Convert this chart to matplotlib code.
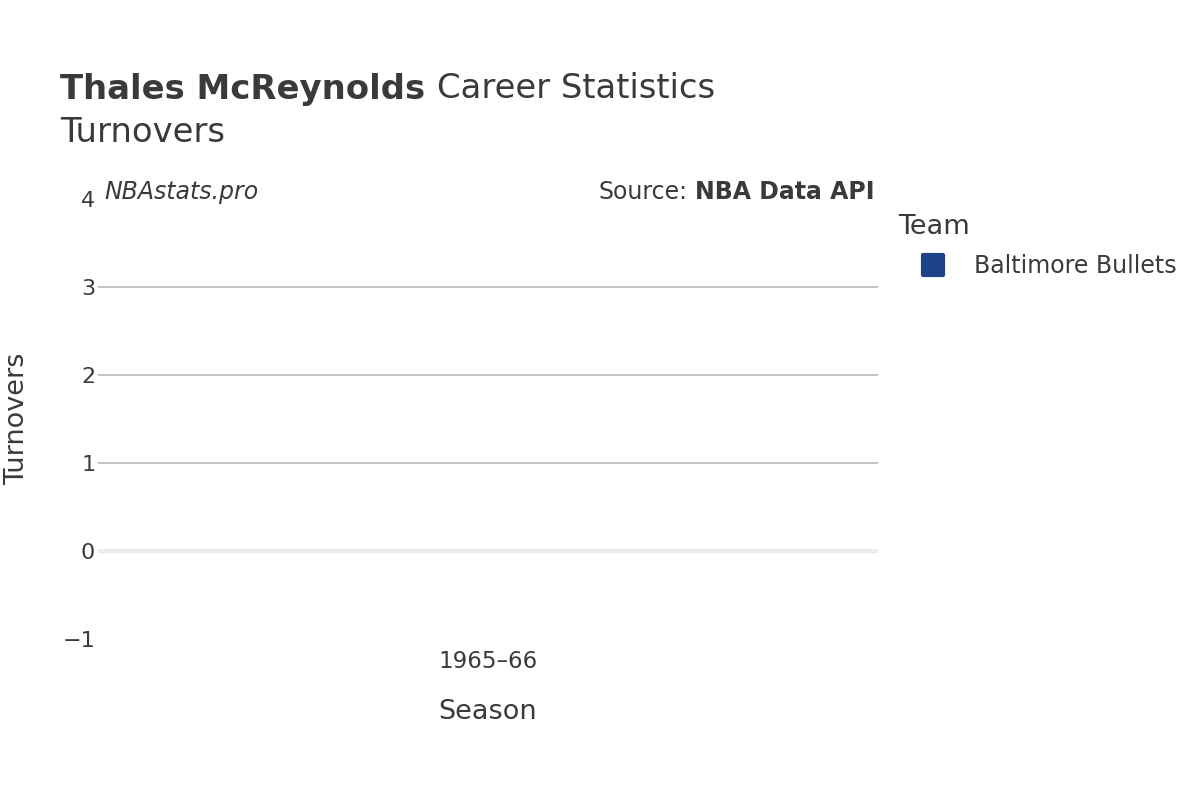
import matplotlib.pyplot as plt
from matplotlib.lines import Line2D
from matplotlib.markers import MarkerStyle

seasons = ["1965–66"]
turnovers = [0]
team = "Baltimore Bullets"
team_color = "#1d428a"
yticks = [-1, 0, 1, 2, 3, 4]
ytick_labels = ["−1", "0", "1", "2", "3", "4"]

txt = "#3a3a3a"
plt.rcParams['font.family'] = ['DejaVu Sans']

W, H = 1200, 800
fig = plt.figure(figsize=(12, 8), dpi=100)
ax = fig.add_axes([98 / W, 1 - 639 / H, 780 / W, 440 / H])

x = list(range(len(seasons)))
ax.bar(x, turnovers, width=0.6, color=team_color)
ax.set_xlim(-0.5, len(seasons) - 0.5)
ax.set_ylim(-1, 4)
ax.set_xticks(x)
ax.set_xticklabels(seasons)
ax.set_yticks(yticks)
ax.set_yticklabels(ytick_labels)

# gridlines, zero line a bit heavier and lighter
for y in [1, 2, 3]:
    ax.axhline(y, color="#c4c4c4", lw=1.5, zorder=0)
ax.axhline(0, color="#ebebeb", lw=3, zorder=0)

for s in ax.spines.values():
    s.set_visible(False)
ax.tick_params(length=0, labelsize=16, colors=txt)
ax.tick_params(axis='y', pad=2)
ax.tick_params(axis='x', labelsize=16.5, pad=8)
ax.set_xlabel("Season", fontsize=19.5, color=txt)
ax.xaxis.set_label_coords(0.5, -(712 - 639) / 440)
ax.xaxis.label.set_va('center')
ax.set_ylabel("Turnovers", fontsize=19.5, color=txt)
ax.yaxis.set_label_coords((17 - 98) / 780, 0.5)
ax.yaxis.label.set_va('center')

fig.canvas.draw()
r = fig.canvas.get_renderer()

t1 = fig.text(60 / W, 1 - 89 / H, "Thales McReynolds", fontsize=24.4, fontweight='bold',
              color=txt, va='center')
bb = t1.get_window_extent(r)
fig.text((bb.x1 + 12) / W, 1 - 89 / H, "Career Statistics", fontsize=24.4, color=txt, va='center')
fig.text(60 / W, 1 - 133 / H, "Turnovers", fontsize=24.4, color=txt, va='center')

fig.text(104 / W, 1 - 192 / H, "NBAstats.pro", fontsize=17, style='italic',
         color=txt, va='center')
t2 = fig.text(874 / W, 1 - 192 / H, "NBA Data API", fontsize=17, fontweight='bold',
              color=txt, va='center', ha='right')
bb = t2.get_window_extent(r)
fig.text((bb.x0 - 7) / W, 1 - 192 / H, "Source:", fontsize=17, color=txt, va='center', ha='right')

fig.text(898 / W, 1 - 227 / H, "Team", fontsize=19.5, color=txt, va='center')
handle = Line2D([], [], marker=MarkerStyle('s', joinstyle='round'), linestyle='',
                markersize=14, markeredgewidth=3,
                markerfacecolor=team_color, markeredgecolor=team_color)
leg = fig.legend([handle], [team], loc='center left',
                 bbox_to_anchor=(921 / W, 1 - 266 / H), frameon=False, borderpad=0,
                 borderaxespad=0, fontsize=17, handlelength=1.0, handletextpad=1.25)
for t in leg.get_texts():
    t.set_color(txt)

fig.savefig("out.png", dpi=100, facecolor="white")
